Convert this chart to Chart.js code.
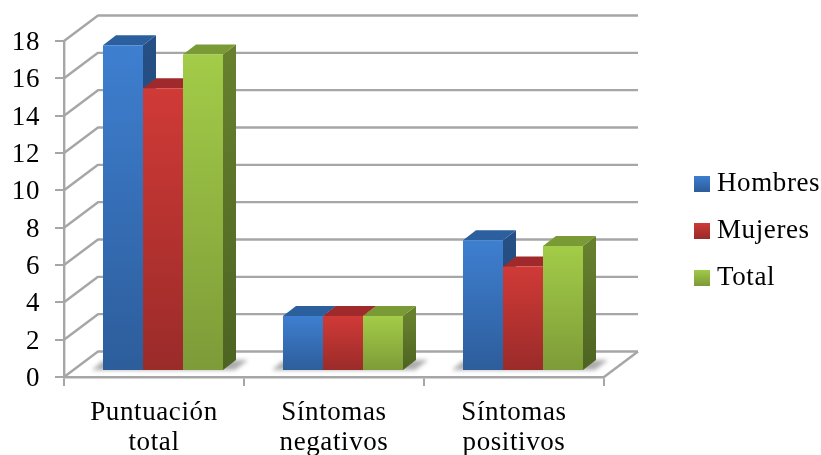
<!DOCTYPE html>
<html>
<head>
<meta charset="utf-8">
<script src="https://cdn.jsdelivr.net/npm/chart.js@4"></script>
<style>
    html, body { margin: 0; padding: 0; background: #fff; overflow: hidden; }
    canvas { display: block; }
</style>
</head>
<body>
<canvas id="chart" width="821" height="455"></canvas>
<script>
const categories = [['Puntuación', 'total'], ['Síntomas', 'negativos'], ['Síntomas', 'positivos']];
const seriesNames = ['Hombres', 'Mujeres', 'Total'];
const hombres = [17.45, 2.95, 7];
const mujeres = [15.15, 2.95, 5.6];
const totales = [16.95, 2.95, 6.7];
const yMax = 18;
const yStep = 2;

// front, top/side shades for each series: [front top, front bottom, cap, side top, side bottom]
const blues = ['#3e7fd0', '#2d5d9b', '#2c5f9e', '#265085', '#1f4270'];
const reds = ['#d03a37', '#9a2b29', '#a02a2b', '#8a2523', '#6f1d1c'];
const greens = ['#a3cc48', '#7d9b38', '#7a9a36', '#67802e', '#4d6322'];
const seriesShades = [blues, reds, greens];

// 3D look: how far the back wall and the bars sit behind the front axis
const wall = { dx: 34, dy: 25.5 };
const barShift = { dx: 9, dy: 6 };
const barDepth = { dx: 13, dy: 10 };
const gridColor = '#a6a6a6';
const font = { family: '"Liberation Serif", serif', size: 27 };
const categoryFont = { family: '"Liberation Serif", serif', size: 27, lineHeight: 1.12 };
const textSpacing = '0.6px';

function frontFill(shades) {
    return (context) => {
        const chart = context.chart;
        const y = chart.scales.y;
        const g = chart.ctx.createLinearGradient(0, y.getPixelForValue(context.parsed.y), 0, y.getPixelForValue(0));
        g.addColorStop(0, shades[0]);
        g.addColorStop(1, shades[1]);
        return g;
    };
}

function legendSwatch(shades) {
    const c = document.createElement('canvas');
    c.width = 16;
    c.height = 16;
    const x = c.getContext('2d');
    const g = x.createLinearGradient(0, 0, 0, 16);
    g.addColorStop(0, shades[0]);
    g.addColorStop(1, shades[1]);
    x.fillStyle = g;
    x.fillRect(0, 0, 16, 16);
    return c;
}

function polygon(ctx, points, fill) {
    ctx.beginPath();
    points.forEach((p, i) => i ? ctx.lineTo(p[0], p[1]) : ctx.moveTo(p[0], p[1]));
    ctx.closePath();
    ctx.fillStyle = fill;
    ctx.fill();
}

// Chart.js has no letter spacing option, the context keeps it between text calls
const spacing = {
    id: 'spacing',
    beforeLayout(chart) { chart.ctx.letterSpacing = textSpacing; },
    beforeDraw(chart) { chart.ctx.letterSpacing = textSpacing; }
};

// Back wall, side wall, floor lines, bar shadows and the caps and sides of the bars
const walls = {
    id: 'walls',
    beforeDatasetsDraw(chart) {
        const ctx = chart.ctx;
        const area = chart.chartArea;
        const y = chart.scales.y;
        ctx.save();
        ctx.strokeStyle = gridColor;
        ctx.lineWidth = 2.4;
        ctx.lineJoin = 'round';
        for (let v = 0; v <= yMax; v += yStep) {
            const py = y.getPixelForValue(v);
            ctx.beginPath();
            ctx.moveTo(area.left, py);
            ctx.lineTo(area.left + wall.dx, py - wall.dy);
            ctx.lineTo(area.right + wall.dx, py - wall.dy);
            ctx.stroke();
        }
        const floor = y.getPixelForValue(0);
        ctx.beginPath();
        ctx.moveTo(area.right, floor);
        ctx.lineTo(area.right + wall.dx, floor - wall.dy);
        ctx.stroke();

        ctx.filter = 'blur(2px)';
        const first = chart.getDatasetMeta(0).data;
        const last = chart.getDatasetMeta(2).data;
        first.forEach((bar, i) => {
            const l = bar.x - bar.width / 2 + barShift.dx;
            const r = last[i].x + last[i].width / 2 + barShift.dx;
            const b = floor - barShift.dy - 1;
            polygon(ctx, [[l - 11, b], [l, b - 9], [r + 25, b - 10], [r + 12, b]], 'rgba(90,90,90,0.5)');
        });
        ctx.filter = 'none';

        // left to right so each cap and front covers the side of its neighbour
        ctx.translate(barShift.dx, -barShift.dy);
        seriesShades.forEach((shades, s) => {
            chart.getDatasetMeta(s).data.forEach((bar) => {
                const l = bar.x - bar.width / 2;
                const r = bar.x + bar.width / 2;
                const side = ctx.createLinearGradient(0, bar.y, 0, bar.base);
                side.addColorStop(0, shades[3]);
                side.addColorStop(1, shades[4]);
                polygon(ctx, [[r, bar.y], [r + barDepth.dx, bar.y - barDepth.dy], [r + barDepth.dx, bar.base - barDepth.dy], [r, bar.base]], side);
                polygon(ctx, [[l, bar.y], [l + barDepth.dx, bar.y - barDepth.dy], [r + barDepth.dx, bar.y - barDepth.dy], [r, bar.y]], shades[2]);
            });
        });
        ctx.restore();
    },
    // front faces share the same shift into the depth
    beforeDatasetDraw(chart) {
        chart.ctx.save();
        chart.ctx.translate(barShift.dx, -barShift.dy);
    },
    afterDatasetDraw(chart) {
        chart.ctx.restore();
    },
    // the text column is wider than the legend reports, so pull it back from the edge
    afterLayout(chart) {
        chart.legend.left = 680.5;
        chart.legend.top += 3;
        chart.legend.bottom += 3;
    }
};

new Chart(document.getElementById('chart'), {
    type: 'bar',
    data: {
        labels: categories,
        datasets: seriesShades.map((shades, i) => ({
            label: seriesNames[i],
            data: [hombres, mujeres, totales][i],
            backgroundColor: frontFill(shades)
        }))
    },
    plugins: [spacing, walls],
    options: {
        responsive: false,
        animation: false,
        events: [],
        datasets: { bar: { categoryPercentage: 120 / 180, barPercentage: 1, clip: false } },
        plugins: {
            tooltip: { enabled: false },
            title: { display: false },
            legend: {
                position: 'right',
                labels: {
                    font: font,
                    color: '#000',
                    padding: 20,
                    boxWidth: 3,
                    boxHeight: 16,
                    usePointStyle: true,
                    generateLabels: () => seriesShades.map((shades, i) => ({
                        text: seriesNames[i],
                        pointStyle: legendSwatch(shades),
                        fontColor: '#000',
                        datasetIndex: i
                    }))
                }
            }
        },
        scales: {
            x: {
                afterFit: (s) => { s.height = 78; },
                border: { color: gridColor, width: 2.4 },
                grid: { drawOnChartArea: false, color: gridColor, lineWidth: 2, tickLength: 9 },
                ticks: { font: categoryFont, color: '#000', padding: 12, maxRotation: 0, autoSkip: false }
            },
            y: {
                min: 0,
                max: yMax,
                afterFit: (s) => { s.width = 64; },
                border: { color: gridColor, width: 2.4 },
                grid: { drawOnChartArea: false, color: gridColor, lineWidth: 2, tickLength: 9 },
                ticks: { stepSize: yStep, font: font, color: '#000', padding: 15, labelOffset: 2 }
            },
            // empty column and row that hold the plot clear of the legend and the top edge
            spacerRight: {
                type: 'linear',
                axis: 'y',
                position: 'right',
                afterFit: (s) => { s.width = 217 - s.chart.legend.width; },
                border: { display: false },
                grid: { display: false },
                ticks: { display: false }
            },
            spacerTop: {
                type: 'linear',
                axis: 'x',
                position: 'top',
                afterFit: (s) => { s.height = 41; },
                border: { display: false },
                grid: { display: false },
                ticks: { display: false }
            }
        }
    }
});
</script>
</body>
</html>
